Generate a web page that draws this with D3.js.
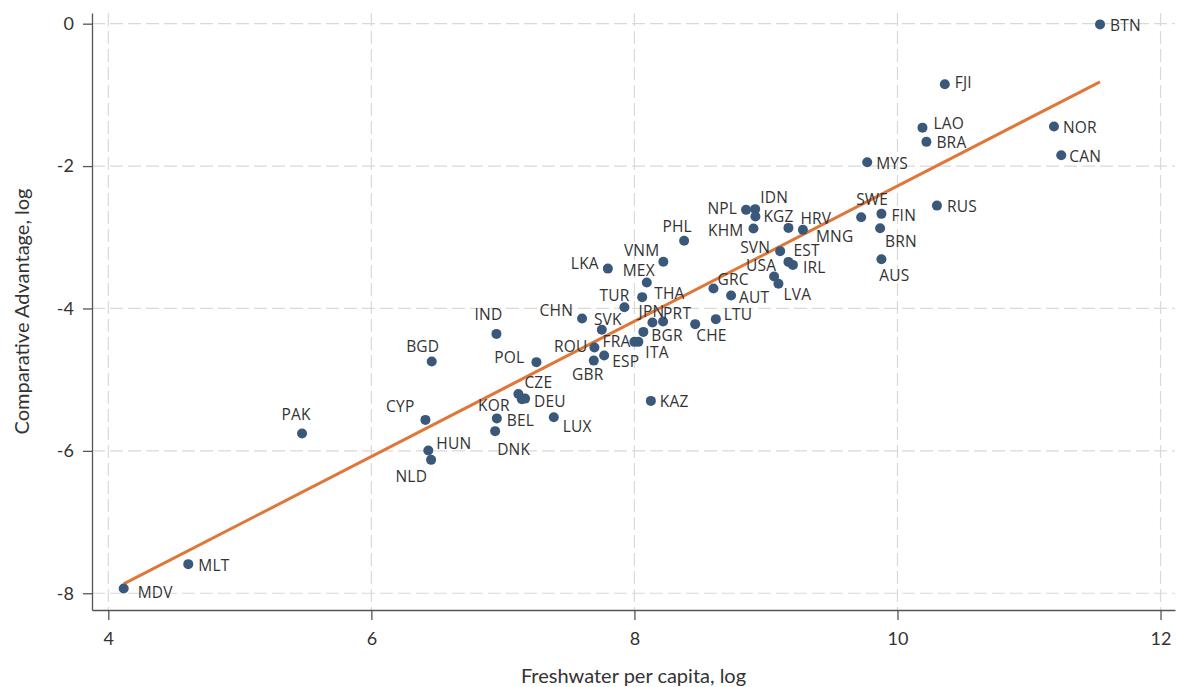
<!DOCTYPE html>
<html>
<head>
<meta charset="utf-8">
<script src="https://cdn.jsdelivr.net/npm/d3@7"></script>
<style>
  body { margin: 0; background: #fff; }
  svg { display: block; }
  .tick text { font-family: Lato, sans-serif; font-size: 18px; fill: #333; }
  .mlabel { font-family: "Open Sans", sans-serif; font-size: 15.5px; letter-spacing: 0.2px; fill: #333; }
  .title { font-family: Lato, sans-serif; font-size: 20px; fill: #333; }
</style>
</head>
<body>
<div id="chart"></div>
<script>
// country codes, freshwater per capita (log) and comparative advantage (log)
const countries = ["BTN", "FJI", "LAO", "BRA", "NOR", "CAN", "MYS", "RUS", "SWE", "FIN",
  "BRN", "AUS", "HRV", "MNG", "NPL", "IDN", "KGZ", "KHM", "SVN", "EST",
  "IRL", "USA", "LVA", "GRC", "AUT", "LTU", "CHE", "PHL", "VNM", "LKA",
  "MEX", "TUR", "THA", "CHN", "SVK", "JPN", "PRT", "BGR", "FRA", "ITA",
  "ROU", "ESP", "GBR", "POL", "IND", "BGD", "CZE", "KOR", "DEU", "BEL",
  "LUX", "CYP", "HUN", "NLD", "DNK", "KAZ", "PAK", "MLT", "MDV"];

const freshwater = [11.54, 10.36, 10.19, 10.22, 11.19, 11.245, 9.77, 10.30, 9.724, 9.878,
  9.868, 9.878, 9.171, 9.281, 8.849, 8.918, 8.920, 8.905, 9.108, 9.171,
  9.205, 9.062, 9.095, 8.601, 8.735, 8.619, 8.462, 8.378, 8.22, 7.798,
  8.094, 7.924, 8.059, 7.602, 7.752, 8.137, 8.218, 8.068, 8.0, 8.03,
  7.696, 7.77, 7.691, 7.255, 6.951, 6.459, 7.118, 7.144, 7.169, 6.954,
  7.387, 6.411, 6.433, 6.454, 6.941, 8.125, 5.473, 4.608, 4.117];

const advantage = [-0.01, -0.85, -1.46, -1.66, -1.445, -1.847, -1.945, -2.555, -2.718, -2.671,
  -2.872, -3.308, -2.868, -2.896, -2.615, -2.605, -2.709, -2.878, -3.195, -3.346,
  -3.388, -3.552, -3.654, -3.72, -3.819, -4.15, -4.22, -3.05, -3.345, -3.44,
  -3.636, -3.982, -3.841, -4.142, -4.30, -4.198, -4.184, -4.329, -4.469, -4.469,
  -4.549, -4.661, -4.732, -4.754, -4.357, -4.746, -5.2, -5.274, -5.266, -5.544,
  -5.527, -5.565, -5.996, -6.126, -5.723, -5.298, -5.757, -7.591, -7.934];

const xTicks = [4, 6, 8, 10, 12];
const yTicks = [0, -2, -4, -6, -8];

// fitted line
const fitSlope = 0.950;
const fitIntercept = -11.78;

// label placement: [anchor, dx, dy] relative to the marker
const labelPos = {
  BTN: ["start", 10, 1], FJI: ["start", 10, -2], LAO: ["start", 11, -4], BRA: ["start", 10, 1],
  NOR: ["start", 9, 1], CAN: ["start", 8, 1], MYS: ["start", 9, 1], RUS: ["start", 10, 1],
  SWE: ["middle", 11, -18], FIN: ["start", 10, 2], BRN: ["start", 5, 13], AUS: ["middle", 13, 16],
  HRV: ["start", 12, -9], MNG: ["start", 13, 7], NPL: ["end", -9, -1], IDN: ["start", 5, -12],
  KGZ: ["start", 8, 0], KHM: ["end", -10, 2], SVN: ["end", -10, -4], EST: ["start", 5, -11],
  IRL: ["start", 10, 3], USA: ["middle", -13, -11], LVA: ["start", 5, 11], GRC: ["start", 4, -9],
  AUT: ["start", 8, 2], LTU: ["start", 8, -5], CHE: ["start", 1, 11], PHL: ["middle", -7, -14],
  VNM: ["end", -4, -11], LKA: ["end", -9, -5], MEX: ["middle", -8, -12], TUR: ["middle", -10, -12],
  THA: ["start", 12, -4], CHN: ["end", -9, -8], SVK: ["middle", 6, -10], JPN: ["middle", -1, -11],
  PRT: ["start", 0, -8], BGR: ["start", 8, 4], FRA: ["end", -4, 0], ITA: ["start", 7, 11],
  ROU: ["end", -7, -1], ESP: ["start", 8, 6], GBR: ["middle", -6, 14], POL: ["end", -12, -5],
  IND: ["middle", -8, -19], BGD: ["middle", -9, -15], CZE: ["start", 6, -11], KOR: ["end", -12, 6],
  DEU: ["start", 9, 3], BEL: ["start", 10, 2], LUX: ["start", 9, 9], CYP: ["end", -11, -13],
  HUN: ["start", 8, -7], NLD: ["end", -4, 17], DNK: ["start", 2, 18], KAZ: ["start", 9, 1],
  PAK: ["middle", -6, -19], MLT: ["start", 10, 1], MDV: ["start", 14, 4]
};

const width = 1177, height = 687;
const plotLeft = 92, plotRight = 1175, plotTop = 13, plotBottom = 610;

const data = countries.map((c, i) => ({ code: c, x: freshwater[i], y: advantage[i] }));

const x = d3.scaleLinear().domain([3.876, 12.11]).range([plotLeft, plotRight]);
const y = d3.scaleLinear().domain([-8.235, 0.15]).range([plotBottom, plotTop]);

const svg = d3.select("#chart").append("svg")
  .attr("width", width)
  .attr("height", height);

// grid
svg.append("g").selectAll("line")
  .data(xTicks)
  .enter().append("line")
  .attr("x1", d => x(d)).attr("x2", d => x(d))
  .attr("y1", plotTop).attr("y2", plotBottom)
  .attr("stroke", "#d9d9d9").attr("stroke-width", 1.2)
  .attr("stroke-dasharray", "13,5");

svg.append("g").selectAll("line")
  .data(yTicks)
  .enter().append("line")
  .attr("x1", plotLeft).attr("x2", plotRight)
  .attr("y1", d => y(d)).attr("y2", d => y(d))
  .attr("stroke", "#d9d9d9").attr("stroke-width", 1.2)
  .attr("stroke-dasharray", "13,5");

// axes (plain hyphen for negatives, as in the original)
const xAxis = svg.append("g")
  .attr("transform", `translate(0,${plotBottom})`)
  .call(d3.axisBottom(x).tickValues(xTicks).tickFormat(d => String(d))
    .tickSize(10).tickSizeOuter(0).tickPadding(12));

const yAxis = svg.append("g")
  .attr("transform", `translate(${plotLeft},0)`)
  .call(d3.axisLeft(y).tickValues(yTicks).tickFormat(d => String(d))
    .tickSize(9).tickSizeOuter(0).tickPadding(9));

[xAxis, yAxis].forEach(a => {
  a.select(".domain").attr("stroke", "#555").attr("stroke-width", 1.3);
  a.selectAll(".tick line").attr("stroke", "#555").attr("stroke-width", 1.3);
  a.attr("font-family", null).attr("font-size", null);
});

// fit line
const xr = d3.extent(data, d => d.x);
svg.append("line")
  .attr("x1", x(xr[0])).attr("y1", y(fitIntercept + fitSlope * xr[0]))
  .attr("x2", x(xr[1])).attr("y2", y(fitIntercept + fitSlope * xr[1]))
  .attr("stroke", "#e0773a")
  .attr("stroke-width", 3);

// points
svg.append("g").selectAll("circle")
  .data(data)
  .enter().append("circle")
  .attr("cx", d => x(d.x))
  .attr("cy", d => y(d.y))
  .attr("r", 5)
  .attr("fill", "#3a5879");

// labels
svg.append("g").selectAll("text")
  .data(data)
  .enter().append("text")
  .attr("class", "mlabel")
  .attr("x", d => x(d.x) + labelPos[d.code][1])
  .attr("y", d => y(d.y) + labelPos[d.code][2])
  .attr("dy", "0.36em")
  .attr("text-anchor", d => labelPos[d.code][0])
  .text(d => d.code);

// axis titles
svg.append("text")
  .attr("class", "title")
  .attr("x", (plotLeft + plotRight) / 2)
  .attr("y", 683)
  .attr("text-anchor", "middle")
  .text("Freshwater per capita, log");

svg.append("text")
  .attr("class", "title")
  .attr("transform", `translate(29,${(plotTop + plotBottom) / 2}) rotate(-90)`)
  .attr("text-anchor", "middle")
  .text("Comparative Advantage, log");
</script>
</body>
</html>
